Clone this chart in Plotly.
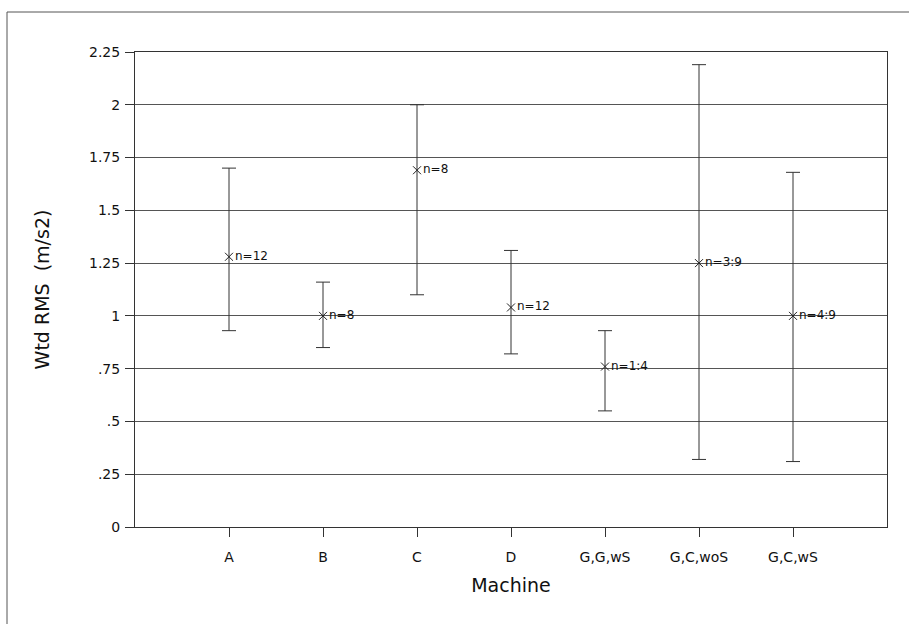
import plotly.graph_objects as go

machines = ["A", "B", "C", "D", "G,G,wS", "G,C,woS", "G,C,wS"]
means = [1.28, 1.00, 1.69, 1.04, 0.76, 1.25, 1.00]
upper = [1.70, 1.16, 2.00, 1.31, 0.93, 2.19, 1.68]
lower = [0.93, 0.85, 1.10, 0.82, 0.55, 0.32, 0.31]
labels = ["n=12", "n=8", "n=8", "n=12", "n=1:4", "n=3:9", "n=4:9"]
ytick_vals = [0, 0.25, 0.5, 0.75, 1, 1.25, 1.5, 1.75, 2, 2.25]
ytick_text = ["0", ".25", ".5", ".75", "1", "1.25", "1.5", "1.75", "2", "2.25"]

xpos = list(range(1, len(machines) + 1))
err_plus = [u - m for u, m in zip(upper, means)]
err_minus = [m - l for m, l in zip(means, lower)]

font_family = "DejaVu Sans, Liberation Sans, Arial, sans-serif"

fig = go.Figure()
fig.add_trace(go.Scatter(
    x=xpos, y=means, mode="markers+text",
    marker=dict(symbol="x-thin", size=8, line=dict(color="#222", width=1), color="#222"),
    text=labels, textposition="middle right",
    textfont=dict(family=font_family, size=12, color="#111"),
    error_y=dict(type="data", symmetric=False, array=err_plus, arrayminus=err_minus,
                 color="#333", thickness=1, width=7),
    showlegend=False, cliponaxis=False,
))

fig.update_layout(
    width=909, height=624,
    margin=dict(l=135, r=22, t=52, b=97),
    paper_bgcolor="white", plot_bgcolor="white",
    font=dict(family=font_family, color="#111"),
    xaxis=dict(range=[0, 8], tickvals=xpos, ticktext=machines,
               showgrid=False, zeroline=False,
               showline=True, linecolor="#333", linewidth=1, mirror=True,
               ticks="outside", ticklen=9, tickcolor="#333",
               ticklabelstandoff=8,
               tickfont=dict(size=14),
               title=dict(text="Machine", font=dict(size=19), standoff=14)),
    yaxis=dict(range=[0, 2.25], tickvals=ytick_vals, ticktext=ytick_text,
               showgrid=True, gridcolor="#555", gridwidth=1, zeroline=False,
               showline=True, linecolor="#333", linewidth=1, mirror=True,
               ticks="outside", ticklen=9, tickcolor="#333",
               ticklabelstandoff=2,
               tickfont=dict(size=14),
               title=dict(text="Wtd RMS  (m/s2)", font=dict(size=19), standoff=34)),
)

# scanned page border lines
fig.add_shape(type="line", xref="paper", yref="paper",
              x0=(7 - 135) / 752, x1=(7 - 135) / 752,
              y0=(527 - 624) / 475, y1=(527 - 12) / 475,
              line=dict(color="#555", width=1))
fig.add_shape(type="line", xref="paper", yref="paper",
              x0=(7 - 135) / 752, x1=(909 - 135) / 752,
              y0=(527 - 12) / 475, y1=(527 - 12) / 475,
              line=dict(color="#555", width=1))

fig.write_html("out.html")
